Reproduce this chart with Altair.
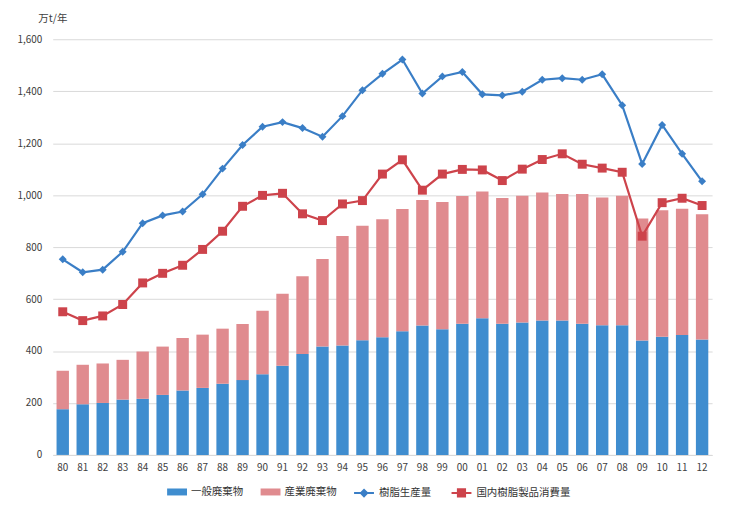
import altair as alt
import pandas as pd

FONT = "Noto Sans CJK JP"

years = ["80", "81", "82", "83", "84", "85", "86", "87", "88", "89",
         "90", "91", "92", "93", "94", "95", "96", "97", "98", "99",
         "00", "01", "02", "03", "04", "05", "06", "07", "08", "09",
         "10", "11", "12"]
general = [176, 195, 200, 213, 216, 231, 248, 258, 274, 288,
           311, 343, 388, 417, 421, 441, 453, 476, 498, 484,
           505, 526, 505, 510, 517, 517, 505, 499, 499, 440,
           455, 462, 444]
industrial = [148, 152, 152, 153, 182, 186, 202, 205, 212, 216,
              244, 277, 300, 337, 422, 441, 454, 471, 483, 490,
              492, 488, 484, 488, 493, 487, 499, 492, 499, 470,
              487, 486, 482]
production = [753, 703, 713, 782, 892, 922, 937, 1003, 1102, 1193,
              1263, 1281, 1258, 1225, 1304, 1404, 1467, 1522, 1391, 1457,
              1474, 1388, 1384, 1398, 1444, 1450, 1444, 1465, 1346, 1120,
              1270, 1159, 1053]
consumption = [551, 517, 535, 579, 662, 699, 730, 791, 861, 957,
               999, 1007, 928, 902, 966, 979, 1081, 1136, 1019, 1081,
               1099, 1097, 1056, 1100, 1137, 1159, 1119, 1104, 1088, 842,
               971, 988, 960]

bar_names = ["一般廃棄物", "産業廃棄物"]
line_names = ["樹脂生産量", "国内樹脂製品消費量"]
bar_colors = ["#3F8DCF", "#E08B8F"]
line_colors = ["#3A7EC6", "#CD434B"]
line_shapes = ["diamond", "square"]
line_sizes = [64, 81]

n = len(years)
bars_df = pd.DataFrame({
    "year": years * 2,
    "value": general + industrial,
    "series": [bar_names[0]] * n + [bar_names[1]] * n,
    "ord": [0] * n + [1] * n,
})
lines_df = pd.DataFrame({
    "year": years * 2,
    "value": production + consumption,
    "series": [line_names[0]] * n + [line_names[1]] * n,
})

x_axis = alt.Axis(title=None, labelAngle=0, ticks=False, domainColor="#d9d9d9",
                  labelPadding=8, labelFontSize=10, labelColor="#404040",
                  labelFont=FONT, grid=False)
x_scale = alt.Scale(paddingInner=0.38, paddingOuter=0.19)
y_axis = alt.Axis(values=list(range(0, 1601, 200)), format=",.0f", title="万t/年",
                  titleAngle=0, titleX=-15, titleY=-21, titleAlign="left",
                  titleBaseline="middle", titleFontWeight="normal",
                  titleFontSize=10.5, titleFont=FONT, titleColor="#404040",
                  labelFontSize=10, labelFont=FONT, labelColor="#404040",
                  labelPadding=11, ticks=False, domain=False,
                  gridColor="#d9d9d9", gridWidth=1)
y_scale = alt.Scale(domain=[0, 1600], nice=False)


def xe():
    return alt.X("year:O", sort=years, scale=x_scale, axis=x_axis)


def ye(stack=None):
    if stack:
        return alt.Y("value:Q", stack=stack, scale=y_scale, axis=y_axis)
    return alt.Y("value:Q", scale=y_scale, axis=y_axis)


rect_path = "M-1,-0.35L1,-0.35L1,0.35L-1,0.35Z"
bar_legend = alt.Legend(title=None, orient="none", legendX=115, legendY=445,
                        direction="horizontal", symbolType=rect_path,
                        symbolSize=400, symbolStrokeWidth=0, labelFontSize=10.5,
                        labelFont=FONT, labelColor="#333333", columnPadding=17,
                        padding=0, labelOffset=4)

bars = alt.Chart(bars_df).mark_bar().encode(
    x=xe(),
    y=ye("zero"),
    color=alt.Color("series:N", scale=alt.Scale(domain=bar_names, range=bar_colors),
                    legend=bar_legend),
    order=alt.Order("ord:Q"),
)

layers = [bars]
for name, col, shp, sz in zip(line_names, line_colors, line_shapes, line_sizes):
    layers.append(
        alt.Chart(lines_df).transform_filter(alt.datum.series == name).mark_line(
            color=col, strokeWidth=2.2,
            point=alt.OverlayMarkDef(shape=shp, size=sz, filled=True, color=col, opacity=1),
        ).encode(x=xe(), y=ye())
    )

diamond_path = "M-1,0L1,0M-0.32,0L0,-0.32L0.32,0L0,0.32Z"
square_path = "M-1,0L1,0M-0.36,-0.36L0.36,-0.36L0.36,0.36L-0.36,0.36Z"
line_legend = alt.Legend(title=None, orient="none", legendX=302, legendY=445,
                         direction="horizontal", symbolSize=400,
                         symbolStrokeWidth=2, symbolOpacity=1, labelFontSize=10.5,
                         labelFont=FONT, labelColor="#333333", columnPadding=16,
                         padding=0, labelOffset=4)

legend_layer = alt.Chart(lines_df).mark_point(filled=True, opacity=0).encode(
    x=xe(),
    y=ye(),
    fill=alt.Fill("series:N", scale=alt.Scale(domain=line_names, range=line_colors),
                  legend=line_legend),
    stroke=alt.Stroke("series:N", scale=alt.Scale(domain=line_names, range=line_colors),
                      legend=line_legend),
    shape=alt.Shape("series:N", scale=alt.Scale(domain=line_names,
                                               range=[diamond_path, square_path]),
                    legend=line_legend),
)
layers.append(legend_layer)

chart = alt.layer(*layers).resolve_scale(color="independent").properties(
    width=663, height=418,
    autosize=alt.AutoSizeParams(type="none"),
    padding={"left": 45, "top": 30, "right": 16, "bottom": 60},
    background="white",
).configure_view(stroke=None)

chart.save("out.html", embed_options={"renderer": "svg", "actions": False})
